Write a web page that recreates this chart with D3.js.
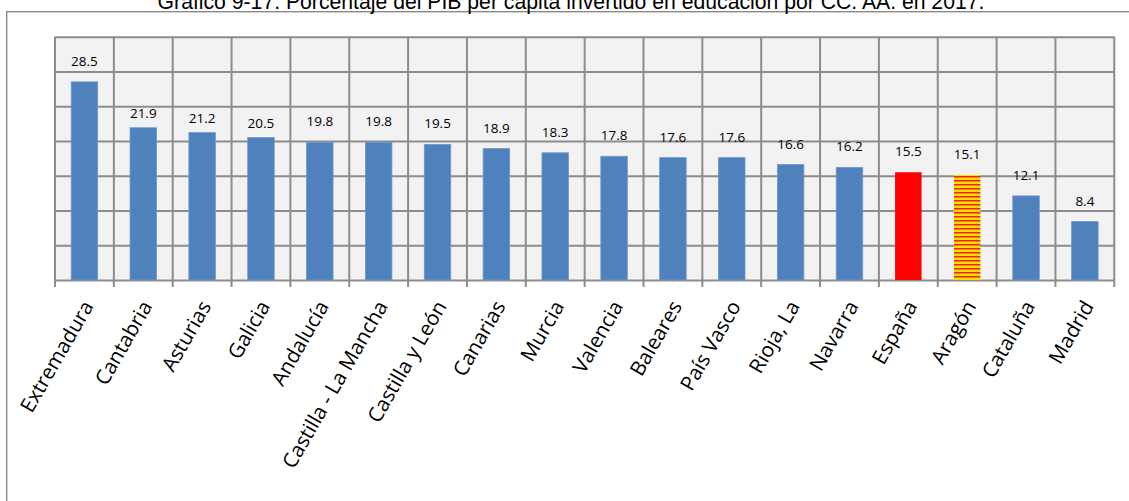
<!DOCTYPE html>
<html>
<head>
<meta charset="utf-8">
<script src="https://cdn.jsdelivr.net/npm/d3@7"></script>
<style>
  html, body { margin: 0; padding: 0; background: #ffffff; }
  svg { display: block; }
</style>
</head>
<body>
<svg id="chart" width="1129" height="501"></svg>
<script>
// ---- data ----
const title = "Gráfico 9-17. Porcentaje del PIB per cápita invertido en educación por CC. AA. en 2017.";
const categories = ["Extremadura","Cantabria","Asturias","Galicia","Andalucía","Castilla - La Mancha","Castilla y León","Canarias","Murcia","Valencia","Baleares","País Vasco","Rioja, La","Navarra","España","Aragón","Cataluña","Madrid"];
const values = [28.5,21.9,21.2,20.5,19.8,19.8,19.5,18.9,18.3,17.8,17.6,17.6,16.6,16.2,15.5,15.1,12.1,8.4];
const yTicks = [0,5,10,15,20,25,30,35];

// ---- styling ----
const W = 1129, H = 501;
const plot = { left: 55, top: 36.7, right: 1114.3, bottom: 280 };
const baseColor = "#4f81bd";
const specialFill = { "España": "#ff0000", "Aragón": "url(#aragon)" };
// data labels that sit closer to their bar in the original (style tweak, px)
const labelGap = { default: 16, "Cantabria": 10, "Asturias": 10, "Galicia": 9.5 };

const svg = d3.select("#chart");

// pattern for Aragón (horizontal red/yellow stripes)
const defs = svg.append("defs");
const pat = defs.append("pattern")
  .attr("id", "aragon").attr("patternUnits", "userSpaceOnUse")
  .attr("width", 8).attr("height", 4);
pat.append("rect").attr("width", 8).attr("height", 4).attr("fill", "#ffdc00");
pat.append("rect").attr("y", 0).attr("width", 8).attr("height", 1.5).attr("fill", "#e4261c");

// outer frame
svg.append("rect")
  .attr("x", 6.7).attr("y", 11.7).attr("width", 1300).attr("height", 700)
  .attr("fill", "none").attr("stroke", "#8a8a8a").attr("stroke-width", 1.4);

// title
svg.append("text")
  .attr("x", 571).attr("y", 8.5)
  .attr("text-anchor", "middle")
  .attr("font-family", "Liberation Sans, Arial, sans-serif")
  .attr("font-size", 21.2)
  .attr("fill", "#000")
  .text(title);

// scales
const x = d3.scaleBand().domain(categories).range([plot.left, plot.right]).padding(0);
const y = d3.scaleLinear().domain([0, 35]).range([plot.bottom, plot.top]);

// plot background
svg.append("rect")
  .attr("x", plot.left).attr("y", plot.top)
  .attr("width", plot.right - plot.left).attr("height", plot.bottom - plot.top)
  .attr("fill", "#f2f2f2");

const gridColor = "#8c8c8c";

// horizontal gridlines via axis
const gy = svg.append("g")
  .attr("transform", `translate(${plot.left},0)`)
  .call(d3.axisLeft(y).tickValues(yTicks).tickSize(-(plot.right - plot.left)).tickFormat(""));
gy.select(".domain").remove();
gy.selectAll(".tick line").attr("stroke", gridColor).attr("stroke-width", 2);

// vertical gridlines at category boundaries (extending as tick marks below axis)
const bounds = categories.map(c => x(c)).concat([plot.right]);
svg.append("g").selectAll("line").data(bounds).join("line")
  .attr("x1", d => d).attr("x2", d => d)
  .attr("y1", plot.top).attr("y2", plot.bottom + 7)
  .attr("stroke", gridColor).attr("stroke-width", 2);

// bars
const barW = x.bandwidth() * 0.45;
svg.append("g").selectAll("rect").data(categories).join("rect")
  .attr("x", (c) => x(c) + (x.bandwidth() - barW) / 2)
  .attr("y", (c, i) => y(values[i]))
  .attr("width", barW)
  .attr("height", (c, i) => y(0) - y(values[i]))
  .attr("fill", c => specialFill[c] || baseColor)
  .attr("stroke", c => specialFill[c] ? "none" : "#6f97c9")
  .attr("stroke-width", 0.8);

// value labels
svg.append("g").selectAll("text").data(categories).join("text")
  .attr("x", c => x(c) + x.bandwidth() / 2)
  .attr("y", (c, i) => y(values[i]) - (labelGap[c] ?? labelGap.default))
  .attr("text-anchor", "middle")
  .attr("font-family", "Open Sans, sans-serif")
  .attr("font-size", 13.5)
  .attr("fill", "#000")
  .text((c, i) => values[i].toFixed(1));

// x axis labels (rotated)
const gx = svg.append("g")
  .attr("transform", `translate(0,${plot.bottom})`)
  .call(d3.axisBottom(x).tickSize(0));
gx.select(".domain").remove();
gx.selectAll(".tick text")
  .attr("font-family", "Open Sans, sans-serif")
  .attr("font-size", 20.5)
  .attr("fill", "#000")
  .attr("text-anchor", "end")
  .attr("x", 0).attr("y", 0).attr("dy", "0.35em")
  .attr("transform", "translate(3.5,22.5) rotate(-60)");
</script>
</body>
</html>
